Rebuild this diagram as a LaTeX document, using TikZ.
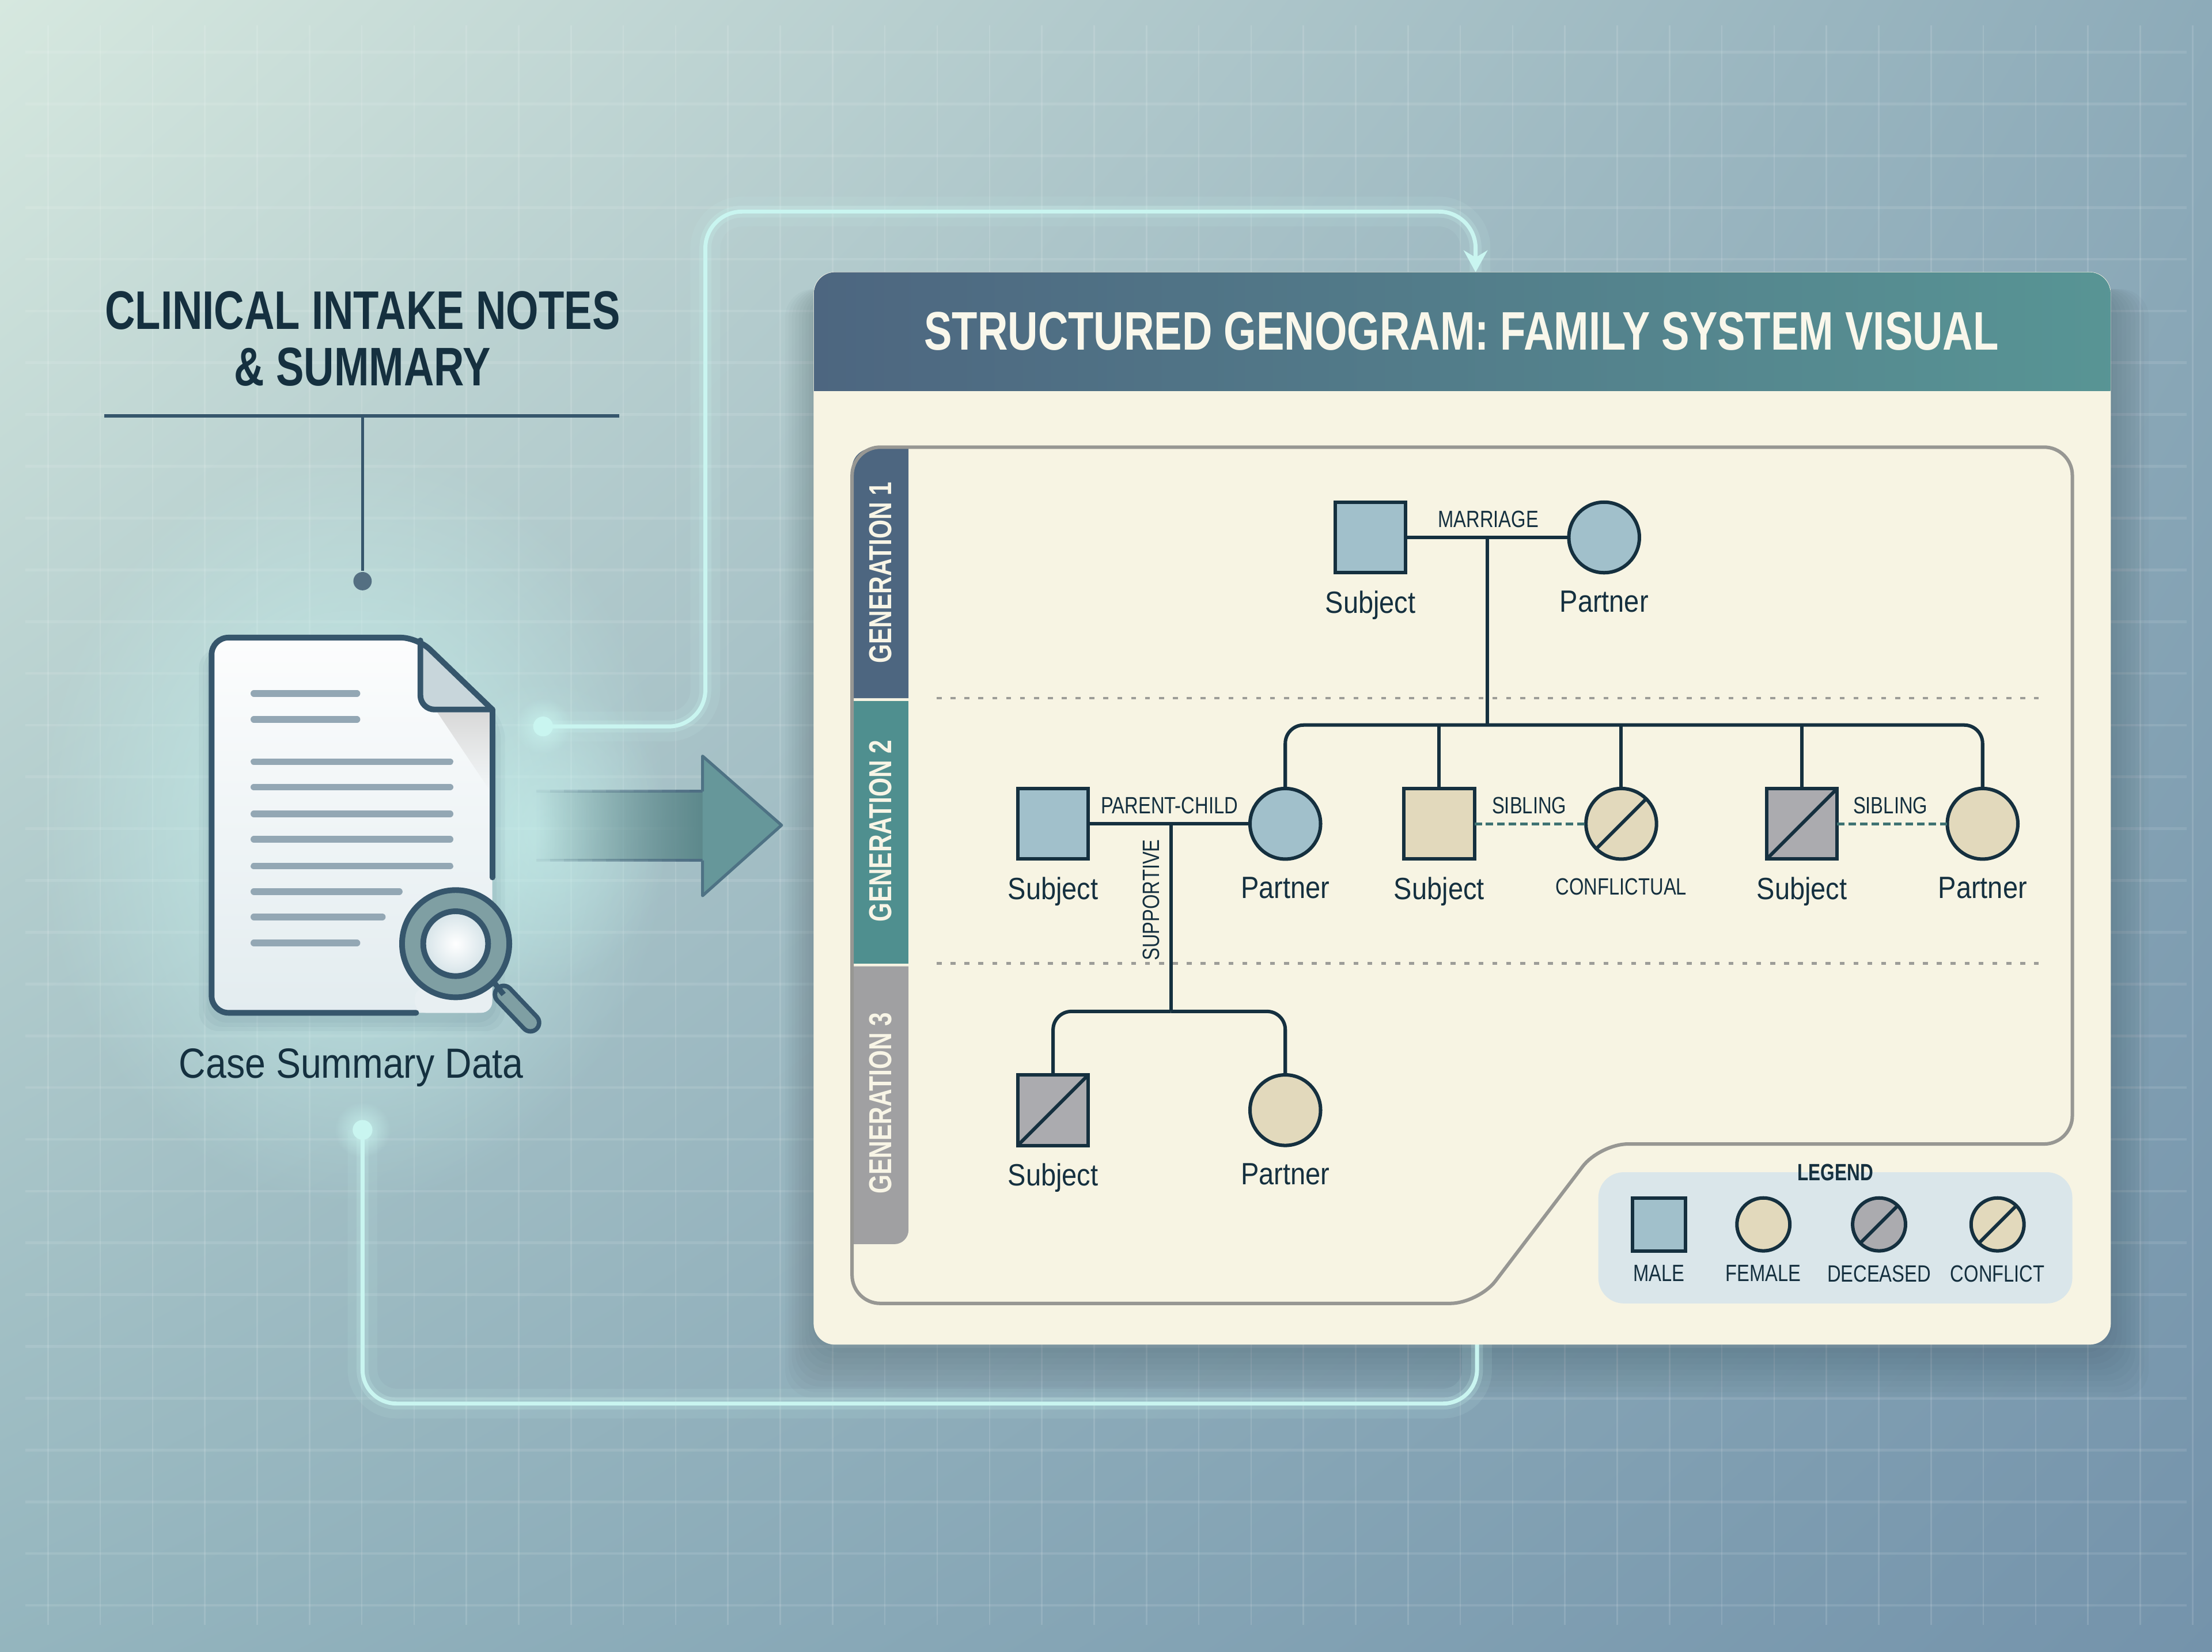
\documentclass[tikz,border=0pt]{standalone}
\usepackage{fontspec}
\setmainfont[FakeStretch=0.88]{Liberation Sans}
\newfontfamily\headfont[FakeStretch=0.77]{Liberation Sans Bold}
\newfontfamily\tagfont[FakeStretch=0.80]{Liberation Sans}
\usetikzlibrary{arrows.meta,positioning,calc,fadings,shadings}
\definecolor{inkcol}{HTML}{15303F}
\definecolor{slatecol}{HTML}{36566C}
\definecolor{creamcol}{HTML}{F7F4E3}
\definecolor{bluecol}{HTML}{A1C0CB}
\definecolor{sandcol}{HTML}{E2D9BC}
\definecolor{greycol}{HTML}{ABABAF}
\definecolor{glowcol}{HTML}{C9F5F0}
\definecolor{tabone}{HTML}{4D6680}
\definecolor{tabtwo}{HTML}{4F8F8F}
\definecolor{tabthree}{HTML}{A0A0A2}
\definecolor{linecol}{HTML}{93A7B4}
\definecolor{lenscol}{HTML}{7F9FA3}
\definecolor{arrowcol}{HTML}{66979A}
\definecolor{bgtl}{HTML}{D6E8DF}
\definecolor{bgtr}{HTML}{8DABB9}
\definecolor{bgbl}{HTML}{94B5BE}
\definecolor{bgbr}{HTML}{7493AB}
\tikzfading[name=softglow,inner color=transparent!20,outer color=transparent!100]
\tikzfading[name=fadein,left color=transparent!100,right color=transparent!0]
\tikzset{
  person/.style  ={draw=inkcol,line width=.7pt,minimum size=.5cm,inner sep=0pt,outer sep=0pt},
  malebox/.style ={person,rectangle,fill=bluecol},
  sandbox/.style ={person,rectangle,fill=sandcol},
  deadbox/.style ={person,rectangle,fill=greycol},
  roundbox/.style={person,circle},
  keybox/.style  ={minimum size=.375cm},
  kin/.style     ={draw=inkcol,line width=.7pt},
  sib/.style     ={draw=tabtwo!80!black,line width=.55pt,dash pattern=on 1.5pt off .8pt},
  divider/.style ={draw=gray!75!creamcol,line width=.5pt,dash pattern=on 1pt off 1.8pt},
  nametxt/.style ={font=\fontsize{6.2}{7}\selectfont,text=inkcol,inner sep=0pt},
  tag/.style     ={font=\tagfont\fontsize{4.75}{5.5}\selectfont,text=inkcol,inner sep=0pt},
  tabtext/.style ={font=\headfont\fontsize{6.4}{7}\selectfont,text=creamcol!90!white,inner sep=0pt,rotate=90},
  headtxt/.style ={font=\headfont\fontsize{10.95}{11.4}\selectfont,text=inkcol,inner sep=0pt,align=center},
  port/.style    ={circle,fill=glowcol,minimum size=.14cm,inner sep=0pt},
  link/.style    ={draw=glowcol,line width=.8pt,
                   preaction={draw=glowcol,line width=2.4pt,opacity=.22,arrows=-},
                   preaction={draw=glowcol,line width=6pt,opacity=.10,arrows=-}},
  textline/.style={draw=linecol,line width=1.35pt,line cap=round},
  docline/.style ={draw=slatecol,line width=1.15pt,line cap=round,line join=round},
}

\begin{document}
\begin{tikzpicture}[x=.01cm,y=-.01cm]
  \useasboundingbox (0,0) rectangle (1568,1171);
  \shade[upper left=bgtl,upper right=bgtr,lower left=bgbl,lower right=bgbr]
    (0,0) rectangle (1568,1171);
  \foreach \gx in {0,...,41}
    \draw[white,opacity=.13,line width=.3pt] ({34+37.08*\gx},18) -- ({34+37.08*\gx},1152);
  \foreach \gy in {0,...,30}
    \draw[white,opacity=.10,line width=.55pt] (18,{37+36.7*\gy}) -- (1550,{37+36.7*\gy});
  \fill[glowcol,path fading=softglow] (250,585) ellipse (225 and 270);
  \fill[glowcol,path fading=softglow,opacity=.6] (385,590) ellipse (90 and 110);
  \node[headtxt] (intake) at (257,240) {CLINICAL INTAKE NOTES\\\& SUMMARY};
  \coordinate (ruleL) at (74,295);
  \coordinate (ruleR) at (439,295);
  \coordinate (ruleM) at (257,295);
  \node[circle,fill=slatecol!85!white,minimum size=.13cm,inner sep=0pt] (pin) at (257,412) {};
  \draw[slatecol,line width=.7pt] (ruleL) -- (ruleR);
  \draw[slatecol,line width=.55pt] (ruleM) -- (pin);

  % card
  \foreach \gs in {34,30,26,22,18,14,10,6,2}
    \fill[black!60!slatecol,opacity=.022,rounded corners=.2cm]
      ({577-.6*\gs},{193+12}) rectangle ({1496+.8*\gs},{953+\gs+4});
  \coordinate (cardin) at (1046,193);
  \coordinate (cardout) at (1047,953);
  \coordinate (bendup) at (500,150);
  \coordinate (benddown) at (257,995);
  \node[port] (portout) at (385,515) {};
  \node[port] (portin) at (257,801) {};
  \fill[glowcol,path fading=softglow] (portout) circle (20);
  \fill[glowcol,path fading=softglow] (portin) circle (20);
  \draw[link,rounded corners=.26cm,-{Stealth[length=4.4pt,width=4.8pt]}]
    (portout.center) -| (bendup) -| (cardin);
  \draw[link,rounded corners=.24cm] (portin.center) -- (benddown) -| (cardout);
  \node[fill=creamcol,rounded corners=.15cm,minimum width=9.19cm,minimum height=7.6cm,inner sep=0pt] (card) at (1036.5,573) {};
  \begin{scope}
    \clip[rounded corners=.15cm] (577,193) rectangle (1496,953);
    \shade[left color=tabone,right color=tabtwo!95!white] (577,193) rectangle (1496,277);
  \end{scope}
  \node[headtxt,font=\headfont\fontsize{10.95}{12}\selectfont,text=creamcol!70!white] (title) at (1036,235)
    {STRUCTURED GENOGRAM: FAMILY SYSTEM VISUAL};

  \fill[tabone] (604,495) [rounded corners=.14cm] -- (604,318) [sharp corners] -- (644,318) -- (644,495) -- cycle;
  \fill[tabtwo] (604,497) rectangle (644,683);
  \fill[tabthree] (604,882) -- (604,685) -- (644,685) [rounded corners=.1cm] -- (644,882) [sharp corners] -- cycle;
  \draw[gray!80!creamcol,line width=.7pt,rounded corners=.2cm]
    (604,600) -- (604,317) -- (1469,317) -- (1469,811) -- (1134,811) -- (1048,924) -- (604,924) -- cycle;
  \node[tabtext] (gen1) at (624,406) {GENERATION 1};
  \node[tabtext] (gen2) at (624,589) {GENERATION 2};
  \node[tabtext] (gen3) at (624,782) {GENERATION 3};
  \coordinate (div1L) at (664,495);
  \coordinate (div1R) at (1445,495);
  \coordinate (div2L) at (664,683);
  \coordinate (div2R) at (1445,683);
  \draw[divider] (div1L) -- (div1R);
  \draw[divider] (div2L) -- (div2R);

  % genogram
  \node[malebox] (s1) at (971.5,381) {};
  \node[roundbox,fill=bluecol,right=11.55mm of s1] (p1) {};
  \node[malebox] (s2) at (746.5,584) {};
  \node[roundbox,fill=bluecol,right=11.45mm of s2] (p2) {};
  \node[sandbox,right=5.9mm of p2] (s3) {};
  \node[roundbox,fill=sandcol,right=7.9mm of s3] (p3) {};
  \node[deadbox,right=7.8mm of p3] (s4) {};
  \node[roundbox,fill=sandcol,right=7.8mm of s4] (p4) {};
  \node[deadbox] (s5) at (746.5,787) {};
  \node[roundbox,fill=sandcol,right=11.45mm of s5] (p5) {};
  \node[nametxt,below=1.2mm of s1] (ns1) {Subject};
  \node[nametxt,below=1.2mm of p1] (np1) {Partner};
  \node[nametxt,below=1.2mm of s2] (ns2) {Subject};
  \node[nametxt,below=1.2mm of p2] (np2) {Partner};
  \node[nametxt,below=1.2mm of s3] (ns3) {Subject};
  \node[tag,below=1.3mm of p3] (np3) {CONFLICTUAL};
  \node[nametxt,below=1.2mm of s4] (ns4) {Subject};
  \node[nametxt,below=1.2mm of p4] (np4) {Partner};
  \node[nametxt,below=1.2mm of s5] (ns5) {Subject};
  \node[nametxt,below=1.2mm of p5] (np5) {Partner};

  \coordinate (m1) at ($(s1)!.5!(p1)$);
  \coordinate (m2) at (830,584);
  \coordinate (bus1) at ($(m1)+(0,133)$);
  \coordinate (bus2) at (830,717);
  \draw[kin] (s1) -- (p1);
  \draw[kin] (s2) -- (p2);
  \draw[kin] (m1) -- (bus1);
  \draw[kin] (m2) -- (bus2);
  \draw[kin,rounded corners=.13cm] (bus1) -| (p2.north);
  \draw[kin,rounded corners=.13cm] (bus1) -| (p4.north);
  \draw[kin] (bus1 -| s3) -- (s3.north);
  \draw[kin] (bus1 -| p3) -- (p3.north);
  \draw[kin] (bus1 -| s4) -- (s4.north);
  \draw[kin,rounded corners=.13cm] (bus2) -| (s5.north);
  \draw[kin,rounded corners=.13cm] (bus2) -| (p5.north);
  \draw[sib] (s3) -- (p3);
  \draw[sib] (s4) -- (p4);
  \foreach \n in {s4,s5}
    \draw[kin] (\n.south west) -- (\n.north east);
  \draw[kin] (p3.-135) -- (p3.45);
  \node[tag] (marriage) at (1055,368) {MARRIAGE};
  \node[tag] (parent) at (829,571) {PARENT-CHILD};
  \node[tag,rotate=90] (support) at (816,638) {SUPPORTIVE};
  \node[tag] (sib1) at (1084,571) {SIBLING};
  \node[tag] (sib2) at (1340,571) {SIBLING};

  % legend
  \fill[bluecol!40!white,rounded corners=.18cm] (1133,831) rectangle (1469,924);
  \node[tag,font=\headfont\fontsize{4.75}{5.5}\selectfont] (legend) at (1301,831) {LEGEND};
  \node[malebox,keybox] (lm) at (1176,868) {};
  \node[roundbox,keybox,fill=sandcol] (lf) at (1250,868) {};
  \node[roundbox,keybox,fill=greycol] (ld) at (1332,868) {};
  \node[roundbox,keybox,fill=sandcol] (lc) at (1416,868) {};
  \foreach \n in {ld,lc}
    \draw[kin] (\n.-135) -- (\n.45);
  \node[tag,below=.95mm of lm] (tm) {MALE};
  \node[tag,below=.95mm of lf] (tf) {FEMALE};
  \node[tag,below=.95mm of ld] (td) {DECEASED};
  \node[tag,below=.95mm of lc] (tc) {CONFLICT};

  % case summary icon
  \foreach \gs in {9,6,3}
    \fill[slatecol,opacity=.05,rounded corners=.14cm]
      ({150-\gs},{718+\gs+4}) -- ({150-\gs},{452+8}) -- (296,{452+8}) -- ({349+\gs},{510}) -- ({349+\gs},{718+\gs+4}) -- cycle;
  \shade[top color=white!97!bluecol,bottom color=bluecol!30!white,rounded corners=.12cm]
    (150,718) -- (150,452) -- (296,452) -- (349,503) -- (349,718) -- cycle;
  \fill[gray!30!white,path fading=south] (310,505) -- (347,505) -- (347,560) -- cycle;
  \fill[black!10!bluecol!50!white,rounded corners=.07cm] (298,452) -- (298,503) -- (349,503) -- cycle;
  \foreach \ty/\tx in {491.6/253,510/253,540/319,558/319,577/319,595/319,614/319,632/283,650/271,668.5/253}
    \draw[textline] (180,\ty) -- (\tx,\ty);
  \draw[docline,rounded corners=.12cm] (295,718) -- (150,718) -- (150,452) -- (296,452) -- (349,503);
  \draw[docline] (349,503) -- (349,622);
  \draw[docline,rounded corners=.1cm] (298,454) -- (298,503) -- (349,503);
  \fill[bluecol!25!white,rounded corners=.08cm] (294,700) -- (349,700) -- (349,718) -- (294,718) -- cycle;
  \draw[slatecol,line width=4.4pt,line cap=round] (357,705) -- (376,725);
  \draw[lenscol,line width=2.6pt,line cap=round] (357,705) -- (376,725);
  \draw[slatecol,line width=1.1pt] (349,695) -- (357,705);
  \draw[slatecol,line width=1.15pt,fill=lenscol] (323,669) circle (38);
  \shade[inner color=white,outer color=bluecol!45!white,draw=slatecol,line width=1.15pt] (323,669) circle (23);
  \node[nametxt,font=\fontsize{8.5}{10}\selectfont] (caselbl) at (249,757) {Case Summary Data};

  % arrow
  \fill[arrowcol!90!black,path fading=fadein] (380,561) rectangle (499,610);
  \foreach \k [evaluate=\k as \ko using \k/12] in {1,...,12}
    \foreach \ey in {561,610}
      \draw[tabone!80!tabtwo,line width=.55pt,opacity=\ko] ({380+(\k-1)*9.9},\ey) -- ({380+\k*9.9},\ey);
  \fill[arrowcol,draw=tabone!70!tabtwo,line width=.6pt,line join=round]
    (498,561) -- (498,536) -- (554,585) -- (498,635) -- (498,610);
\end{tikzpicture}
\end{document}
